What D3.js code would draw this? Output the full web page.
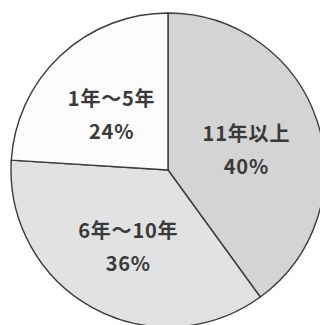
<!DOCTYPE html>
<html>
<head>
<meta charset="utf-8">
<script src="https://cdn.jsdelivr.net/npm/d3@7"></script>
<style>
  body { margin: 0; background: #fff; }
  svg { display: block; }
</style>
</head>
<body>
<svg id="chart" width="320" height="325"></svg>
<script>
// data
let categories = ["11年以上", "6年～10年", "1年～5年"];
let percents = [40, 36, 24];
let fills = ["#d4d4d4", "#e2e2e2", "#fcfcfc"];

let width = 320, height = 325;
let center = { x: 168, y: 170 };
let radius = 157;

let svg = d3.select("#chart");

let slices = d3.pie().sort(null).value((d) => d)(percents);

let arc = d3.arc().innerRadius(0).outerRadius(radius);
let labelArc = d3.arc().innerRadius(0).outerRadius(radius * 1.05);

let pieGroup = svg
  .append("g")
  .attr("transform", `translate(${center.x}, ${center.y})`);

pieGroup
  .selectAll("path")
  .data(slices)
  .enter()
  .append("path")
  .attr("d", arc)
  .attr("fill", (d, i) => fills[i])
  .attr("stroke", "#3c3c3c")
  .attr("stroke-width", 1.4);

let labels = pieGroup
  .selectAll("text")
  .data(slices)
  .enter()
  .append("text")
  .attr("text-anchor", "middle")
  .attr("fill", "#3a3a3a")
  .attr("font-family", "'Noto Sans CJK JP', 'Noto Sans', sans-serif")
  .attr("font-size", 20)
  .attr("font-weight", 700)
  .attr("letter-spacing", 0.8)
  .attr("transform", (d) => {
    let c = labelArc.centroid(d);
    return `translate(${c[0]}, ${c[1]})`;
  });

labels
  .append("tspan")
  .attr("x", 0)
  .attr("y", -4)
  .text((d, i) => categories[i]);

labels
  .append("tspan")
  .attr("x", 0)
  .attr("y", 29)
  .text((d) => d.data + "%");
</script>
</body>
</html>
